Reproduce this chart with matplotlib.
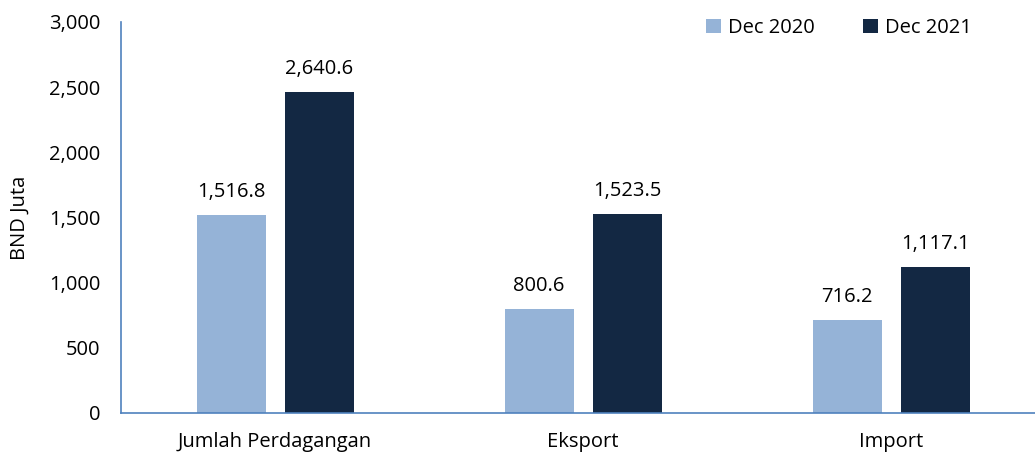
import matplotlib
matplotlib.use("Agg")
import matplotlib.pyplot as plt
import numpy as np

categories = ["Jumlah Perdagangan", "Eksport", "Import"]
series_names = ["Dec 2020", "Dec 2021"]
bar_2020 = [1516.8, 800.6, 716.2]
bar_2021 = [2460.0, 1523.5, 1117.1]
label_2020 = [1516.8, 800.6, 716.2]
label_2021 = [2640.6, 1523.5, 1117.1]
yticks = [0, 500, 1000, 1500, 2000, 2500, 3000]

plt.rcParams['font.family'] = ['Open Sans', 'DejaVu Sans']
FS = 14.5

fig = plt.figure(figsize=(10.35, 4.55), dpi=100)
ax = fig.add_axes([121/1035, 1-413/455, (1045-121)/1035, (413-22)/455])

x = np.arange(len(categories))
w = 69/308
gap = 19/308
c1, c2 = "#95B3D7", "#132843"
b1 = ax.bar(x - (w+gap)/2, bar_2020, w, color=c1, label=series_names[0])
b2 = ax.bar(x + (w+gap)/2, bar_2021, w, color=c2, label=series_names[1])

for bars, labs in ((b1, label_2020), (b2, label_2021)):
    for r, v in zip(bars, labs):
        ax.annotate(f"{v:,.1f}", (r.get_x()+r.get_width()/2, r.get_height()),
                    xytext=(0, 18), textcoords="offset pixels",
                    ha="center", va="baseline", fontsize=FS, color="#000000")

ax.set_xlim(-0.5, 2.5)
ax.set_ylim(0, 3000)
ax.set_yticks(yticks)
ax.set_yticklabels([f"{t:,}" for t in yticks])
ax.set_xticks(x)
ax.set_xticklabels(categories)
ax.tick_params(axis='both', length=0, labelsize=FS)
ax.tick_params(axis='y', pad=15)
ax.tick_params(axis='x', pad=14)
for s in ("top", "right"):
    ax.spines[s].set_visible(False)
for s in ("left", "bottom"):
    ax.spines[s].set_color("#4F81BD")
    ax.spines[s].set_linewidth(1.2)
ax.set_ylabel("BND Juta", fontsize=FS, labelpad=14)

leg = ax.legend(loc="upper right", bbox_to_anchor=(990/1035, 1.0), bbox_transform=fig.transFigure,
                ncol=2, frameon=False, fontsize=FS, handlelength=0.75, handleheight=0.75,
                handletextpad=0.35, columnspacing=2.4)

fig.savefig("out.png", dpi=100)
